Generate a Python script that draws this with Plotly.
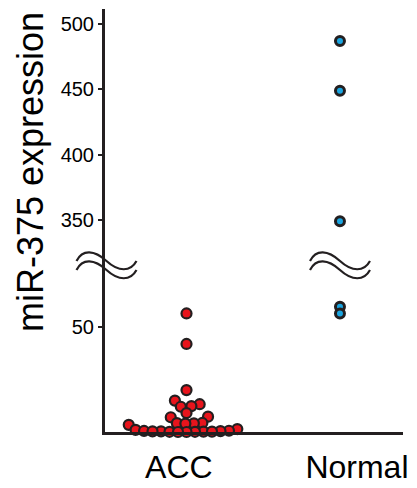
import math
import plotly.graph_objects as go

# ---------------- data ----------------
categories = ["ACC", "Normal"]
acc_values = [56.3, 41.8, 19.9, 14.9, 13.2, 12.3, 12.0, 9.0, 7.3, 7.0, 4.3, 4.2,
              4.1, 4.0, 3.4, 1.4, 1.0, 0.6, 0.5, 0.4, 0.3, 0.3, 0.2, 0.2, 0.1,
              0.1, 0.0, 0.0]
normal_values = [487, 449, 349, 59.5, 56.3]
lower_ticks = [50]
upper_ticks = [350, 400, 450, 500]
y_title = "miR-375 expression"

# ---------------- layout constants ----------------
W, H = 417, 488
ML, MR, MT, MB = 105, 14, 9, 56
PW, PH = W - ML - MR, H - MT - MB
BREAK_PX = 265                      # pixel row of the axis break
LOWER_DOM = (H - MB - BREAK_PX) / PH
LOWER_RANGE = [0, 79.3]
UPPER_RANGE = [315.6, 511.5]
UPPER_BREAK = 320                   # values above this go on the upper axis
X_RANGE = [-0.577, 1.423]
TICK_POS = [-0.081, 1.114]

AX = "#231f20"
RED = "#e8141c"
BLUE = "#1aa5e0"

px_per_y_lower = (H - MB - BREAK_PX) / (LOWER_RANGE[1] - LOWER_RANGE[0])
px_per_x = PW / (X_RANGE[1] - X_RANGE[0])


def swarm(vals, d=8.5):
    order = sorted(range(len(vals)), key=lambda i: vals[i])
    placed = []
    xs = [0.0] * len(vals)
    for i in order:
        yi = vals[i] * px_per_y_lower
        cands = [0.0]
        for xj, yj in placed:
            dy = yi - yj
            if abs(dy) < d:
                dx = math.sqrt(d * d - dy * dy)
                cands += [xj + dx, xj - dx]
        valid = [c for c in cands
                 if all((c - xj) ** 2 + (yi - yj) ** 2 >= d * d - 1e-6 for xj, yj in placed)]
        best = min(valid, key=lambda c: (abs(c), c))
        placed.append((best, yi))
        xs[i] = best / px_per_x
    return xs


acc_x = [-0.03 + dx for dx in swarm(acc_values)]

fig = go.Figure()
fig.add_trace(go.Scatter(
    x=acc_x, y=acc_values, mode="markers", xaxis="x", yaxis="y",
    marker=dict(size=10, color=RED, line=dict(color=AX, width=2.2)),
    cliponaxis=False, showlegend=False, hoverinfo="skip"))

n_low = [v for v in normal_values if v < UPPER_BREAK]
n_up = [v for v in normal_values if v >= UPPER_BREAK]
fig.add_trace(go.Scatter(
    x=[1] * len(n_low), y=n_low, mode="markers", xaxis="x", yaxis="y",
    marker=dict(size=9, color=BLUE, line=dict(color=AX, width=3)),
    cliponaxis=False, showlegend=False, hoverinfo="skip"))
fig.add_trace(go.Scatter(
    x=[1] * len(n_up), y=n_up, mode="markers", xaxis="x", yaxis="y2",
    marker=dict(size=9, color=BLUE, line=dict(color=AX, width=3)),
    cliponaxis=False, showlegend=False, hoverinfo="skip"))


def to_paper(px, py):
    return (px - ML) / PW, (H - MB - py) / PH


def wave(cx, cy):
    pts = [(-30, 0), (-24, -12), (-12, -11), (0, 0), (12, 11), (24, 11), (30, 0)]
    p = [to_paper(cx + a, cy + b) for a, b in pts]
    s = "M %f,%f C %f,%f %f,%f %f,%f C %f,%f %f,%f %f,%f" % (
        p[0] + p[1] + p[2] + p[3] + p[4] + p[5] + p[6])
    return s


shapes = []
for cx in (106.5, 340):
    for cy in (261, 270):
        shapes.append(dict(type="path", path=wave(cx, cy), xref="paper", yref="paper",
                           line=dict(color=AX, width=2.2), layer="above"))

tick_font = dict(family="Liberation Sans, Arial, sans-serif", size=20, color="black")
common_y = dict(showline=True, linecolor=AX, linewidth=3, ticks="outside", ticklen=4,
                tickwidth=2, tickcolor=AX, showgrid=False, zeroline=False,
                tickfont=tick_font, fixedrange=True, automargin=False)

fig.update_layout(
    width=W, height=H,
    margin=dict(l=ML, r=MR, t=MT, b=MB, autoexpand=False),
    paper_bgcolor="white", plot_bgcolor="white",
    xaxis=dict(range=X_RANGE, showline=True, linecolor=AX, linewidth=3,
               tickvals=TICK_POS, ticktext=categories, ticks="", showgrid=False,
               zeroline=False, anchor="y", ticklabelstandoff=5, automargin=False,
               tickfont=dict(family="Liberation Sans, Arial, sans-serif", size=32, color="black")),
    yaxis=dict(domain=[0, LOWER_DOM], range=LOWER_RANGE, tickvals=lower_ticks,
               anchor="x", **common_y),
    yaxis2=dict(domain=[LOWER_DOM, 1], range=UPPER_RANGE, tickvals=upper_ticks,
                anchor="x", **common_y),
    shapes=shapes,
    annotations=[dict(text=y_title, textangle=-90, xref="paper", yref="paper",
                      x=to_paper(30, 172)[0], y=to_paper(30, 172)[1],
                      showarrow=False, xanchor="center", yanchor="middle",
                      font=dict(family="Liberation Sans, Arial, sans-serif", size=36,
                                color="black"))],
)

fig.write_html("out.html")
